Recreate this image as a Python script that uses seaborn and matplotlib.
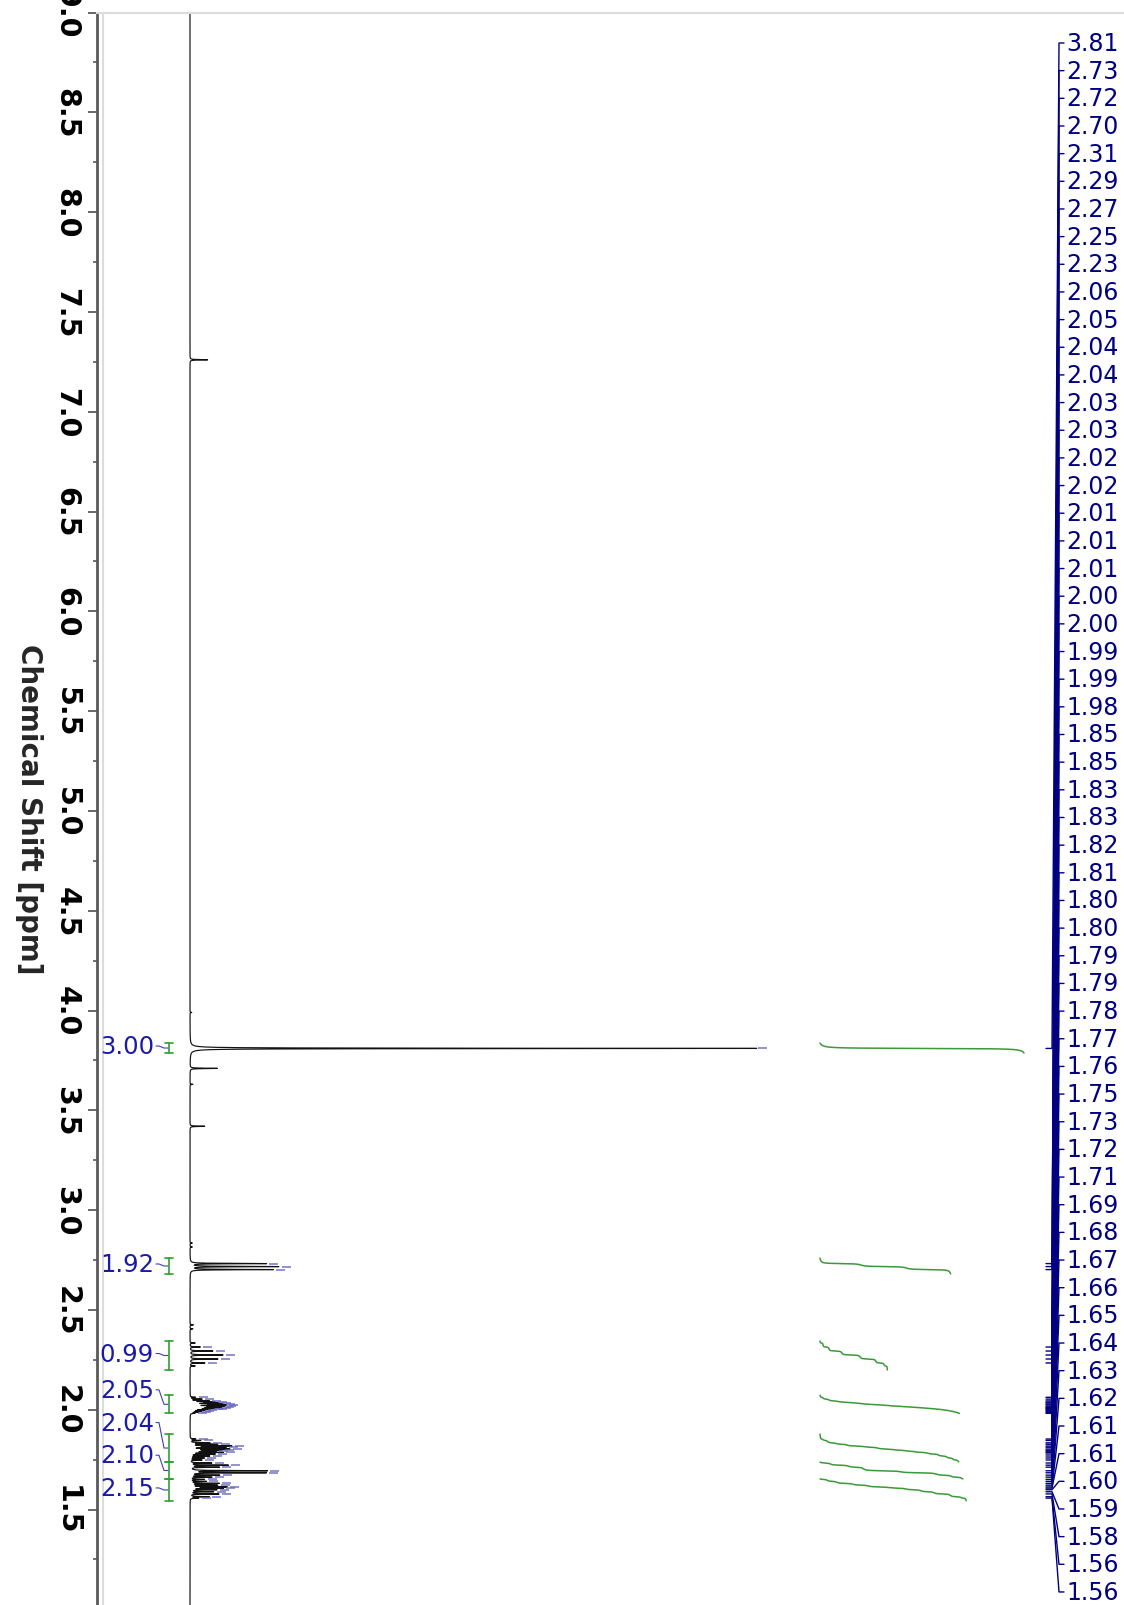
import numpy as np
import pandas as pd
import matplotlib
matplotlib.use("Agg")
import matplotlib.pyplot as plt
import seaborn as sns

# --- data --------------------------------------------------------------
# picked peaks (ppm) and their heights (the 3.81 singlet = 100)
picked_ppm = [3.810, 2.732, 2.717, 2.702, 2.314, 2.294, 2.274, 2.254, 2.234,
              2.062, 2.053, 2.044, 2.038, 2.034, 2.028, 2.024, 2.018, 2.014,
              2.010, 2.006, 2.002, 1.997, 1.992, 1.987, 1.982,
              1.853, 1.846, 1.834, 1.827, 1.818, 1.812, 1.803, 1.797, 1.792,
              1.786, 1.778, 1.768, 1.758, 1.748, 1.733, 1.722, 1.712, 1.694,
              1.684, 1.672, 1.662, 1.651, 1.641, 1.631, 1.622, 1.613, 1.607,
              1.599, 1.589, 1.578, 1.564, 1.557]
picked_height = [100.0, 13.4, 15.5, 14.6, 1.8, 4.0, 5.8, 4.9, 2.6,
                 0.9, 2.0, 3.1, 3.8, 4.4, 5.0, 5.6, 5.2, 4.6, 4.1, 3.5, 3.0,
                 2.2, 1.7, 1.3, 0.7,
                 0.9, 1.8, 3.3, 4.6, 7.0, 5.9, 6.6, 5.0, 4.0, 5.5, 4.2, 3.3,
                 2.4, 2.0, 3.7, 6.6, 5.0, 13.4, 13.2, 5.0, 3.7, 2.4, 2.7, 5.0,
                 4.6, 6.2, 5.5, 4.5, 4.0, 5.0, 3.3, 1.4]

# small signals that were not picked (CDCl3, impurities)
other_ppm = [7.26, 3.99, 3.71, 3.63, 3.42, 2.835, 2.815, 2.425, 2.405, 2.334, 2.219]
other_height = [3.1, 0.3, 4.8, 0.5, 2.6, 0.4, 0.4, 0.6, 0.5, 0.9, 0.9]

# integrals
integral_value = [3.00, 1.92, 0.99, 2.05, 2.04, 2.10, 2.15]
integral_from = [3.837, 2.760, 2.344, 2.073, 1.878, 1.738, 1.653]
integral_to = [3.787, 2.680, 2.199, 1.981, 1.738, 1.653, 1.543]

ppm_ticks = [1.5, 2.0, 2.5, 3.0, 3.5, 4.0, 4.5, 5.0, 5.5, 6.0, 6.5, 7.0, 7.5, 8.0, 8.5, 9.0]
ppm_minor = [1.25, 1.75, 2.25, 2.75, 3.25, 3.75, 4.25, 4.75, 5.25, 5.75,
             6.25, 6.75, 7.25, 7.75, 8.25, 8.75]

# --- layout (pixels of the 1124x1606 picture) --------------------------
FIG_W, FIG_H = 1124, 1606
AX_LEFT, AX_TOP = 97, 13.5
PX_PPM = 199.6          # pixels per ppm
PPM_TOP = 9.0
BASE = 190              # x pixel of zero intensity
PX_UNIT = 5.68          # pixels per intensity unit


def xd(px):
    return (px - BASE) / PX_UNIT


def ppm_at(ypx):
    return PPM_TOP - (ypx - AX_TOP) / PX_PPM


def ypx_of(p):
    return AX_TOP + (PPM_TOP - p) * PX_PPM


ppm_bot = ppm_at(FIG_H)

# --- spectrum (lorentzian lines) ----------------------------------------
hw = 0.0012
grid = np.arange(ppm_bot, PPM_TOP, 0.0002)
pos = np.r_[picked_ppm, other_ppm]
hgt = np.r_[picked_height, other_height]
inten = (hgt[:, None] / (1 + ((grid[None, :] - pos[:, None]) / hw) ** 2)).sum(0)
spec = pd.DataFrame({"ppm": grid, "intensity": inten})

sns.set_theme(style="white")
plt.rcParams["font.family"] = ["DejaVu Sans"]

fig = plt.figure(figsize=(FIG_W / 100, FIG_H / 100), dpi=100)
ax = fig.add_axes([AX_LEFT / FIG_W, 0, (FIG_W - AX_LEFT) / FIG_W, (FIG_H - AX_TOP) / FIG_H])

sns.lineplot(data=spec, x="intensity", y="ppm", sort=False, estimator=None,
             color="#111111", lw=0.85, ax=ax)

# blue marks at the top of picked peaks
for p in picked_ppm:
    top = np.interp(p, grid, inten)
    ax.plot([top + 3 / PX_UNIT, top + 12 / PX_UNIT], [p, p], color="#6464c0",
            lw=1.4, alpha=0.7, solid_capstyle="butt")

# integral curves
x0 = xd(820)
per_unit = 68 / PX_UNIT
for v, a, b in zip(integral_value, integral_from, integral_to):
    m = (grid <= a) & (grid >= b)
    seg_p = grid[m][::-1]
    cum = np.cumsum(inten[m][::-1])
    xs = x0 + v * per_unit * cum / cum[-1]
    sns.lineplot(x=xs, y=seg_p, sort=False, estimator=None, color="#3a9a3a",
                 lw=1.1, ax=ax)

# integral brackets and labels
xb = xd(169)
cap = 4 / PX_UNIT
mids = [(a + b) / 2 for a, b in zip(integral_from, integral_to)]
mid_px = [ypx_of(m) for m in mids]
lab_px = [0.0] * len(mids)
lab_px[-1] = mid_px[-1] - 2
for i in range(len(mids) - 2, -1, -1):
    lab_px[i] = min(mid_px[i] - 2, lab_px[i + 1] - 32.7)

for v, a, b, mp, lp in zip(integral_value, integral_from, integral_to, mids, lab_px):
    ax.plot([xb, xb], [a, b], color="#2f9f2f", lw=1.2)
    for e in (a, b):
        ax.plot([xb - cap, xb + cap], [e, e], color="#2f9f2f", lw=1.2)
    lp_ppm = ppm_at(lp)
    ax.plot([xd(156), xd(159), xd(164), xd(168)], [lp_ppm, lp_ppm, mp, mp],
            color="#4040b0", lw=0.8)
    ax.text(xd(154), lp_ppm, f"{v:.2f}", ha="right", va="center",
            fontsize=17.5, color="#1a1aa6")

# peak labels on the right with leader lines
for i, p in enumerate(picked_ppm):
    ly = ppm_at(44 + i * 27.66)
    ax.plot([xd(1046), xd(1052), xd(1059), xd(1064)], [p, p, ly, ly],
            color="#000080", lw=1.0)
    ax.text(xd(1066), ly, f"{p:.2f}", ha="left", va="center",
            fontsize=17, color="#000080")

# axes styling
ax.set_xlim(xd(AX_LEFT), xd(FIG_W))
ax.set_ylim(ppm_bot, PPM_TOP)
ax.axvline(xd(103), color="#dcdcdc", lw=1.5)
for s in ("right", "bottom"):
    ax.spines[s].set_visible(False)
ax.spines["left"].set_color("#5a5a5a")
ax.spines["left"].set_linewidth(2)
ax.spines["top"].set_color("#dcdcdc")
ax.spines["top"].set_linewidth(1.5)

ax.set_xticks([])
ax.set_xlabel("")
ax.set_yticks(ppm_ticks)
ax.set_yticklabels([f"{t:.1f}" for t in ppm_ticks], rotation=-90, va="center",
                   fontweight="bold", fontsize=20.5, color="black")
ax.set_yticks(ppm_minor, minor=True)
ax.tick_params(axis="y", which="major", left=True, length=6.5, width=1.3,
               color="#5a5a5a", pad=5.5, direction="out")
ax.tick_params(axis="y", which="minor", left=True, length=3, width=1.2,
               color="#5a5a5a", direction="out")

ax.set_ylabel("Chemical Shift [ppm]", rotation=-90, fontsize=20,
              fontweight="bold", va="center", ha="center")
ax.yaxis.set_label_coords((29 - AX_LEFT) / (FIG_W - AX_LEFT), 0.5)

fig.savefig("out.png", dpi=100)
